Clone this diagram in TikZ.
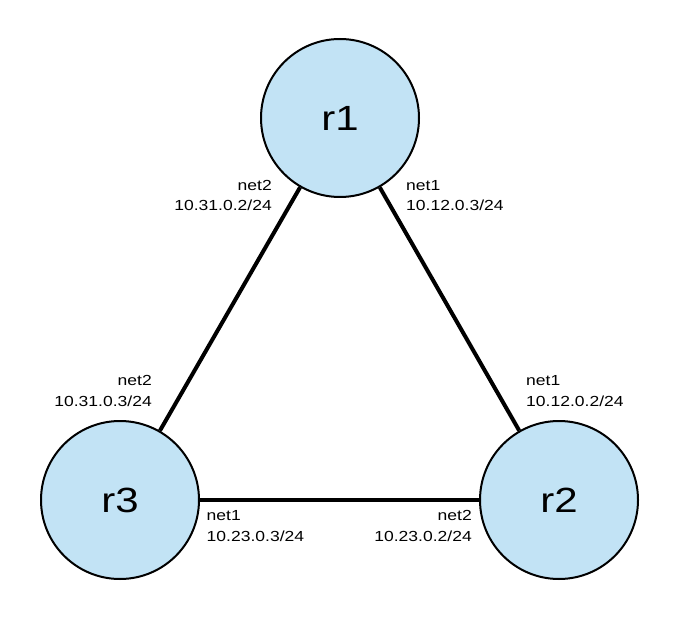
\documentclass[tikz,border=0pt]{standalone}
\usepackage{fontspec}
\setmainfont{Liberation Sans}
\newfontfamily\widesans[FakeStretch=1.2]{Liberation Sans}
\definecolor{routerblue}{RGB}{194,227,245}
\begin{document}
\begin{tikzpicture}[x=1pt,y=-1pt,
  router/.style={circle,draw=black,line width=2pt,fill=routerblue,
    minimum size=158pt,inner sep=0pt,font=\widesans\fontsize{35}{40}\selectfont},
  link/.style={line width=4pt},
  addr/.style={inner sep=0pt,font=\widesans\fontsize{14.6}{20.3}\selectfont}]
\useasboundingbox (0,0) rectangle (680,620);

% routers
\node[router] (r1) at (340,118) {r1};
\node[router] (r2) at (559,500) {r2};
\node[router] (r3) at (120,500) {r3};

% point-to-point links
\draw[link] (r1) -- (r2);
\draw[link] (r1) -- (r3);
\draw[link] (r3) -- (r2);

% interface addresses (anchored on the baseline of the address line)
\node[addr,anchor=base east,align=right] (a1) at (272,211) {net2\\10.31.0.2/24};
\node[addr,anchor=base west,align=left]  (a2) at (406,211) {net1\\10.12.0.3/24};
\node[addr,anchor=base east,align=right] (a3) at (152,406) {net2\\10.31.0.3/24};
\node[addr,anchor=base west,align=left]  (a4) at (526,406) {net1\\10.12.0.2/24};
\node[addr,anchor=base west,align=left]  (a5) at (206.5,541) {net1\\10.23.0.3/24};
\node[addr,anchor=base east,align=right] (a6) at (472,541) {net2\\10.23.0.2/24};
\end{tikzpicture}
\end{document}
